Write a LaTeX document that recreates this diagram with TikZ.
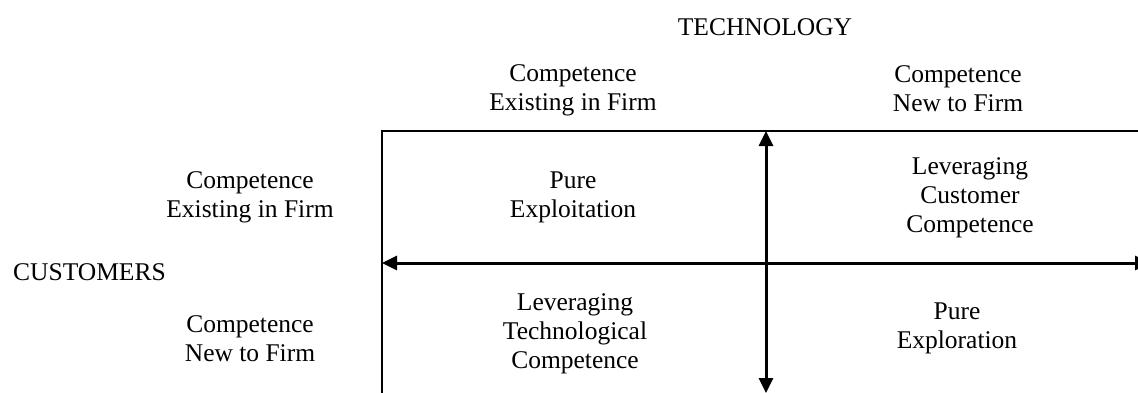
\documentclass[tikz,border=0pt]{standalone}
\usepackage{fontspec}
\setmainfont{Liberation Serif}
\usetikzlibrary{arrows.meta}
\tikzset{
  lbl/.style={font=\fontsize{25.5}{29}\selectfont, align=center, inner sep=0pt, anchor=base},
  frame/.style={line width=2pt},
  axis/.style={line width=3pt, {Triangle[length=15pt,width=14pt]}-{Triangle[length=15pt,width=14pt]}}
}
\begin{document}
\begin{tikzpicture}[x=1pt,y=-1pt]
\useasboundingbox (0,0) rectangle (1138,392);
\clip (0,0) rectangle (1138,392);
% frame
\coordinate (fb) at (382,395);
\coordinate (ftl) at (382,131);
\coordinate (fr) at (1140,131);
\draw[frame] (fb) -- (ftl) -- (fr);
% axes
\coordinate (hl) at (382,263);
\coordinate (hr) at (1150,263);
\coordinate (vt) at (766,131);
\coordinate (vb) at (766,393);
\draw[axis] (hl) -- (hr);
\draw[axis] (vt) -- (vb);
% labels (anchor base = baseline of last line)
\node[lbl] (tech) at (765,35) {TECHNOLOGY};
\node[lbl] (tl) at (573,110) {Competence\\Existing in Firm};
\node[lbl] (tr) at (958,111) {Competence\\New to Firm};
\node[lbl] (lu) at (250,217) {Competence\\Existing in Firm};
\node[lbl, anchor=base west] (cust) at (13,280) {CUSTOMERS};
\node[lbl] (ll) at (250,361) {Competence\\New to Firm};
\node[lbl] (pe) at (573,217) {Pure\\Exploitation};
\node[lbl] (lcc) at (970,232) {Leveraging\\Customer\\Competence};
\node[lbl] (ltc) at (575,368) {Leveraging\\Technological\\Competence};
\node[lbl] (px) at (957,348) {Pure\\Exploration};
\end{tikzpicture}
\end{document}
